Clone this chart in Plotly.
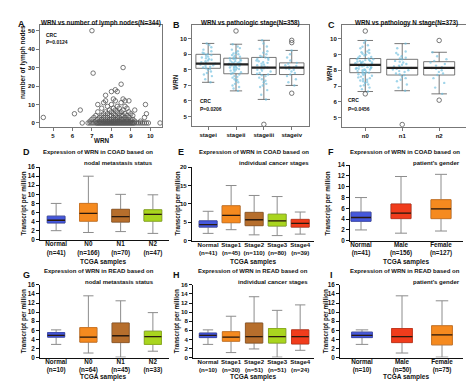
import plotly.graph_objects as go

W, H = 474, 383
FONT = "Liberation Sans, Arial, sans-serif"

# ---------------- Data ----------------
# Panel A: WRN vs number of lymph nodes (scatter)
a_wrn = [6.5, 6.8, 6.9, 7.0, 7.1, 7.2, 7.25, 7.3, 7.35, 7.4, 7.45, 7.5, 7.55, 7.6, 7.65, 7.7, 7.75, 7.8, 7.85, 7.9,
         7.95, 8.0, 8.05, 8.1, 8.15, 8.2, 8.25, 8.3, 8.35, 8.4, 8.45, 8.5, 8.55, 8.6, 8.65, 8.7, 8.75, 8.8, 8.85, 8.9,
         8.95, 9.0, 9.05, 9.1, 9.15, 9.2, 9.3, 9.4, 9.5, 9.6, 9.7, 9.8, 9.9, 10.5,
         6.9, 7.2, 7.4, 7.6, 7.7, 7.8, 7.9, 8.0, 8.1, 8.2, 8.3, 8.4, 8.5, 8.6, 8.7, 8.8, 8.9, 9.0, 9.2, 9.5,
         7.0, 7.3, 7.5, 7.7, 7.9, 8.0, 8.2, 8.3, 8.5, 8.6, 8.8, 9.0, 9.1,
         4.5, 7.1, 7.4, 7.6, 7.8, 8.1, 8.3, 8.4, 8.7, 8.9, 9.7,
         7.2, 7.5, 7.9, 8.0, 8.2, 8.5, 8.6, 8.8, 9.1,
         6.1, 7.6, 7.8, 8.1, 8.4, 8.7, 9.0, 9.8,
         7.3, 7.7, 8.0, 8.3, 8.5, 8.9,
         6.4, 7.9, 8.2, 8.6, 9.2,
         7.5, 8.1, 8.4, 8.8,
         7.8, 8.3, 8.7,
         7.3, 8.0, 9.75,
         7.6, 8.5,
         7.7, 8.2, 8.7, 8.9,
         8.1, 8.6,
         7.7, 8.0, 8.2, 8.3, 8.5, 7.06, 8.6, 7.0]
a_nodes = [0] * 54 + [1] * 20 + [2] * 13 + [3] * 11 + [4] * 9 + [5] * 8 + [6] * 6 + [7] * 5 + [8] * 4 + [9] * 3 \
          + [10] * 3 + [11] * 2 + [12] * 4 + [13] * 2 + [15, 17, 18, 17, 21, 27, 30, 50]

# Panel B: WRN vs pathologic stage
b_cats = ["stagei", "stageii", "stageiii", "stageiv"]
b_q1 = [8.1, 7.75, 7.7, 7.7]
b_med = [8.4, 8.35, 8.15, 8.15]
b_q3 = [9.0, 8.75, 8.8, 8.45]
b_lo = [7.2, 6.65, 6.1, 7.0]
b_hi = [9.7, 9.65, 9.9, 9.25]
b_out_x = ["stageii", "stageiii", "stageiv", "stageiv", "stageiv"]
b_out_y = [10.5, 4.5, 9.9, 9.75, 6.5]
b_pts = {
    "stagei": [7.2, 7.4, 7.6, 7.7, 7.8, 7.9, 8.0, 8.05, 8.1, 8.15, 8.2, 8.25, 8.3, 8.35, 8.4, 8.4, 8.45, 8.5, 8.55,
               8.6, 8.65, 8.7, 8.75, 8.8, 8.85, 8.9, 8.95, 9.0, 9.05, 9.1, 9.2, 9.3, 9.45, 9.6, 9.7],
    "stageii": [6.65, 6.8, 6.9, 7.0, 7.1, 7.2, 7.3, 7.35, 7.4, 7.5, 7.55, 7.6, 7.7, 7.75, 7.8, 7.85, 7.9, 7.95, 8.0,
                8.0, 8.05, 8.1, 8.1, 8.15, 8.2, 8.2, 8.25, 8.3, 8.3, 8.35, 8.35, 8.4, 8.4, 8.45, 8.45, 8.5, 8.5,
                8.55, 8.6, 8.6, 8.65, 8.7, 8.7, 8.75, 8.8, 8.85, 8.9, 8.95, 9.0, 9.05, 9.1, 9.2, 9.3, 9.4, 9.5, 9.65],
    "stageiii": [6.1, 6.4, 6.7, 6.9, 7.0, 7.1, 7.2, 7.3, 7.4, 7.5, 7.6, 7.65, 7.7, 7.75, 7.8, 7.9, 7.95, 8.0, 8.05,
                 8.1, 8.15, 8.2, 8.25, 8.3, 8.35, 8.4, 8.45, 8.5, 8.55, 8.6, 8.65, 8.7, 8.75, 8.8, 8.85, 8.9, 9.0,
                 9.1, 9.2, 9.35, 9.5, 9.7, 9.9],
    "stageiv": [7.0, 7.2, 7.4, 7.6, 7.7, 7.8, 7.9, 8.0, 8.05, 8.1, 8.15, 8.2, 8.25, 8.3, 8.4, 8.45, 8.6, 8.8, 9.0,
                9.25],
}

# Panel C: WRN vs pathology N stage
c_cats = ["n0", "n1", "n2"]
c_q1 = [7.85, 7.7, 7.7]
c_med = [8.35, 8.15, 8.15]
c_q3 = [8.75, 8.7, 8.55]
c_lo = [6.65, 6.7, 6.5]
c_hi = [9.9, 9.7, 9.15]
c_out_x = ["n0", "n0", "n1", "n2", "n2"]
c_out_y = [10.5, 6.5, 4.55, 9.9, 6.1]
c_pts = {
    "n0": [6.65, 6.8, 6.9, 7.0, 7.05, 7.1, 7.2, 7.25, 7.3, 7.35, 7.4, 7.45, 7.5, 7.55, 7.6, 7.65, 7.7, 7.75, 7.8,
           7.8, 7.85, 7.9, 7.9, 7.95, 8.0, 8.0, 8.05, 8.05, 8.1, 8.1, 8.15, 8.15, 8.2, 8.2, 8.25, 8.25, 8.3, 8.3,
           8.35, 8.35, 8.4, 8.4, 8.45, 8.45, 8.5, 8.5, 8.55, 8.55, 8.6, 8.6, 8.65, 8.65, 8.7, 8.7, 8.75, 8.8, 8.85,
           8.9, 8.95, 9.0, 9.05, 9.1, 9.15, 9.2, 9.3, 9.4, 9.5, 9.6, 9.75, 9.9],
    "n1": [6.7, 6.9, 7.1, 7.3, 7.4, 7.5, 7.6, 7.7, 7.75, 7.8, 7.9, 7.95, 8.0, 8.05, 8.1, 8.15, 8.2, 8.25, 8.3, 8.35,
           8.4, 8.5, 8.55, 8.6, 8.7, 8.75, 8.8, 8.9, 9.0, 9.1, 9.2, 9.4, 9.7],
    "n2": [6.5, 6.9, 7.2, 7.5, 7.7, 7.8, 7.9, 8.0, 8.1, 8.15, 8.2, 8.3, 8.4, 8.5, 8.6, 8.7, 8.9, 9.15],
}

# Panels D-I: TPM box plots  (lower whisker, q1, median, q3, upper whisker)
d_cats = ["Normal<br>(n=41)", "N0<br>(n=166)", "N1<br>(n=70)", "N2<br>(n=47)"]
d_lo, d_q1, d_med, d_q3, d_hi = [2.0, 1.6, 1.8, 1.4], [3.7, 4.1, 3.9, 4.1], [4.3, 5.8, 5.1, 5.6], [5.2, 8.0, 6.7, 6.6], [8.0, 14.0, 10.0, 9.9]

e_cats = ["Normal<br>(n=41)", "Stage1<br>(n=45)", "Stage2<br>(n=110)", "Stage3<br>(n=80)", "Stage4<br>(n=39)"]
e_lo, e_q1, e_med, e_q3, e_hi = [2.0, 3.0, 1.6, 1.4, 1.8], [3.7, 4.9, 4.1, 4.0, 3.7], [4.4, 6.9, 5.7, 5.4, 4.7], [5.4, 9.5, 7.7, 7.2, 5.8], [8.0, 15.0, 12.3, 12.0, 7.8]

f_cats = ["Normal<br>(n=41)", "Male<br>(n=156)", "Female<br>(n=127)"]
f_lo, f_q1, f_med, f_q3, f_hi = [2.0, 1.4, 1.8], [3.6, 4.1, 4.1], [4.3, 5.1, 5.9], [5.3, 6.8, 7.6], [8.0, 11.9, 12.3]

g_cats = ["Normal<br>(n=10)", "N0<br>(n=64)", "N1<br>(n=45)", "N2<br>(n=33)"]
g_lo, g_q1, g_med, g_q3, g_hi = [2.9, 1.0, 0.1, 1.4], [4.5, 3.4, 3.3, 2.9], [4.9, 4.5, 4.8, 4.6], [5.5, 6.6, 7.6, 5.8], [6.1, 13.6, 12.5, 9.9]

h_cats = ["Normal<br>(n=10)", "Stage1<br>(n=30)", "Stage2<br>(n=51)", "Stage3<br>(n=51)", "Stage4<br>(n=24)"]
h_lo, h_q1, h_med, h_q3, h_hi = [2.9, 1.1, 1.9, 0.1, 1.6], [4.4, 3.6, 3.2, 3.2, 3.0], [4.9, 4.5, 4.6, 4.6, 4.6], [5.4, 5.7, 7.6, 6.4, 6.1], [6.1, 9.1, 13.4, 10.4, 11.6]

i_cats = ["Normal<br>(n=10)", "Male<br>(n=50)", "Female<br>(n=75)"]
i_lo, i_q1, i_med, i_q3, i_hi = [2.9, 1.0, 0.1], [4.4, 3.3, 2.8], [4.9, 4.6, 5.0], [5.6, 6.4, 7.0], [6.1, 13.6, 12.5]

BLUE, ORANGE, BROWN, LIME, RED = "#4558DC", "#F58A1F", "#B66E2C", "#A9D51F", "#F03C1C"
BLUE_D, ORANGE_D, BROWN_D, LIME_D, RED_D = "#3341B0", "#D27015", "#92551F", "#88AD12", "#C62D12"

# ---------------- Helpers ----------------
def px_x(a, b):
    return [a / W, b / W]

def px_y(top, bottom):
    return [1 - bottom / H, 1 - top / H]

fig = go.Figure()
annotations = []

def ann(text, x, y, size, xanchor="center", yanchor="middle", angle=0, bold=True, color="#111"):
    annotations.append(dict(text=text, x=x / W, y=1 - y / H, xref="paper", yref="paper",
                            xanchor=xanchor, yanchor=yanchor, textangle=angle, showarrow=False,
                            font=dict(family=FONT, size=size, color=color, weight="bold" if bold else "normal")))

layout_axes = {}

def axes(k, xdom, ydom, xrange, yrange, boxed, xcats=None, ytickvals=None, xtickvals=None, tfs=6, xstand=0):
    xn = "xaxis" if k == 1 else f"xaxis{k}"
    yn = "yaxis" if k == 1 else f"yaxis{k}"
    tick = dict(family=FONT, size=tfs, color="#111", weight="bold")
    lc = "#777" if boxed else "#111"
    xa = dict(domain=xdom, anchor=f"y{'' if k == 1 else k}", range=xrange, showgrid=False, zeroline=False,
              showline=True, linecolor=lc, linewidth=1, mirror=boxed, tickfont=tick, fixedrange=True,
              tickangle=0, ticklabelstandoff=xstand)
    ya = dict(domain=ydom, anchor=f"x{'' if k == 1 else k}", range=yrange, showgrid=False, zeroline=False,
              showline=True, linecolor=lc, linewidth=1, mirror=boxed, tickfont=tick, ticks="outside",
              ticklen=3, tickcolor=lc, tickwidth=1, fixedrange=True)
    if xcats is not None:
        xa.update(type="category", categoryorder="array", categoryarray=xcats, ticks="outside" if boxed else "",
                  ticklen=3, tickcolor=lc)
    else:
        xa.update(ticks="outside", ticklen=3, tickcolor=lc)
    if ytickvals is not None:
        ya.update(tickmode="array", tickvals=ytickvals)
    if xtickvals is not None:
        xa.update(tickmode="array", tickvals=xtickvals)
    layout_axes[xn] = xa
    layout_axes[yn] = ya

# ---------------- Panel A ----------------
axes(1, px_x(32, 154), px_y(13, 117), [4.33, 10.6], [-2.1, 53.2], True,
     ytickvals=[0, 10, 20, 30, 40, 50], xtickvals=[5, 6, 7, 8, 9, 10])
fig.add_trace(go.Scatter(x=a_wrn, y=a_nodes, mode="markers", xaxis="x", yaxis="y",
                         marker=dict(symbol="circle-open", size=4.5, color="#555", line=dict(width=0.8))))

# ---------------- Panels B, C ----------------
def jitter_panel(k, cats, q1, med, q3, lo, hi, pts, out_x, out_y, bw):
    xa, ya = f"x{k}", f"y{k}"
    fig.add_trace(go.Box(x=cats, q1=q1, median=med, q3=q3, lowerfence=lo, upperfence=hi, xaxis=xa, yaxis=ya,
                         boxpoints=False, fillcolor="rgba(255,255,255,0)", line=dict(color="#555", width=0.8),
                         width=bw, whiskerwidth=0.5))
    for c in cats:
        fig.add_trace(go.Box(x=[c] * len(pts[c]), y=pts[c], xaxis=xa, yaxis=ya, boxpoints="all", jitter=0.65,
                             pointpos=0, fillcolor="rgba(0,0,0,0)", line=dict(color="rgba(0,0,0,0)", width=0),
                             whiskerwidth=0, width=bw,
                             marker=dict(size=2.4, color="rgba(110,190,222,0.65)")))
    fig.add_trace(go.Box(x=cats, q1=med, median=med, q3=med, lowerfence=med, upperfence=med, xaxis=xa, yaxis=ya,
                         boxpoints=False, line=dict(color="#222", width=2.2), width=bw, whiskerwidth=0,
                         fillcolor="rgba(0,0,0,0)"))
    fig.add_trace(go.Scatter(x=out_x, y=out_y, mode="markers", xaxis=xa, yaxis=ya,
                             marker=dict(symbol="circle-open", size=4.5, color="#555", line=dict(width=0.8))))

axes(2, px_x(184, 301), px_y(13, 116), [-0.58, 3.62], [4.4, 10.9], True, xcats=b_cats,
     ytickvals=[5, 6, 7, 8, 9, 10])
jitter_panel(2, b_cats, b_q1, b_med, b_q3, b_lo, b_hi, b_pts, b_out_x, b_out_y, 0.88)

axes(3, px_x(334, 467), px_y(13, 117), [-0.63, 2.97], [4.4, 10.9], True, xcats=c_cats,
     ytickvals=[5, 6, 7, 8, 9, 10])
jitter_panel(3, c_cats, c_q1, c_med, c_q3, c_lo, c_hi, c_pts, c_out_x, c_out_y, 0.84)

# ---------------- Panels D-I ----------------
def tpm_panel(k, cats, lo, q1, med, q3, hi, colors, dark, bw):
    xa, ya = f"x{k}", f"y{k}"
    fig.add_trace(go.Box(x=cats, q1=q1, median=med, q3=q3, lowerfence=lo, upperfence=hi, xaxis=xa, yaxis=ya,
                         boxpoints=False, fillcolor="rgba(0,0,0,0)", line=dict(color="#8c8c8c", width=1),
                         width=bw, whiskerwidth=0.6))
    for i, c in enumerate(cats):
        fig.add_trace(go.Box(x=[c], q1=[q1[i]], median=[med[i]], q3=[q3[i]], lowerfence=[q1[i]],
                             upperfence=[q3[i]], xaxis=xa, yaxis=ya, boxpoints=False, fillcolor=colors[i],
                             line=dict(color=dark[i], width=0.8), width=bw, whiskerwidth=0))
    fig.add_trace(go.Box(x=cats, q1=med, median=med, q3=med, lowerfence=med, upperfence=med, xaxis=xa, yaxis=ya,
                         boxpoints=False, line=dict(color="#2a1a0e", width=1.3), width=bw, whiskerwidth=0,
                         fillcolor="rgba(0,0,0,0)"))

SO = -2
axes(4, px_x(32, 161), px_y(158, 232), [-0.5, 3.5], [0, 16], False, xcats=d_cats,
     ytickvals=[0, 2, 4, 6, 8, 10, 12, 14, 16], tfs=6.3, xstand=SO)
tpm_panel(4, d_cats, d_lo, d_q1, d_med, d_q3, d_hi, [BLUE, ORANGE, BROWN, LIME], [BLUE_D, ORANGE_D, BROWN_D, LIME_D], 0.55)

axes(5, px_x(184, 306), px_y(158, 233), [-0.7, 4.6], [0, 20], False, xcats=e_cats,
     ytickvals=[0, 5, 10, 15, 20], tfs=6.1, xstand=SO)
tpm_panel(5, e_cats, e_lo, e_q1, e_med, e_q3, e_hi, [BLUE, ORANGE, BROWN, LIME, RED],
          [BLUE_D, ORANGE_D, BROWN_D, LIME_D, RED_D], 0.78)

axes(6, px_x(342, 455), px_y(156, 233), [-0.275, 2.55], [0, 14], False, xcats=f_cats,
     ytickvals=[0, 2, 4, 6, 8, 10, 12, 14], tfs=6.3, xstand=SO)
tpm_panel(6, f_cats, f_lo, f_q1, f_med, f_q3, f_hi, [BLUE, RED, ORANGE], [BLUE_D, RED_D, ORANGE_D], 0.5)

axes(7, px_x(32, 161), px_y(278, 352), [-0.5, 3.5], [0, 16], False, xcats=g_cats,
     ytickvals=[0, 2, 4, 6, 8, 10, 12, 14, 16], tfs=6.3, xstand=SO)
tpm_panel(7, g_cats, g_lo, g_q1, g_med, g_q3, g_hi, [BLUE, ORANGE, BROWN, LIME], [BLUE_D, ORANGE_D, BROWN_D, LIME_D], 0.53)

axes(8, px_x(185, 306), px_y(278, 352), [-0.65, 4.6], [0, 16], False, xcats=h_cats,
     ytickvals=[0, 2, 4, 6, 8, 10, 12, 14, 16], tfs=6.1, xstand=SO)
tpm_panel(8, h_cats, h_lo, h_q1, h_med, h_q3, h_hi, [BLUE, ORANGE, BROWN, LIME, RED],
          [BLUE_D, ORANGE_D, BROWN_D, LIME_D, RED_D], 0.75)

axes(9, px_x(332, 455), px_y(278, 352), [-0.55, 2.525], [0, 16], False, xcats=i_cats,
     ytickvals=[0, 2, 4, 6, 8, 10, 12, 14, 16], tfs=6.3, xstand=SO)
tpm_panel(9, i_cats, i_lo, i_q1, i_med, i_q3, i_hi, [BLUE, RED, ORANGE], [BLUE_D, RED_D, ORANGE_D], 0.52)

# ---------------- Text ----------------
# panel letters
for t, x, y in [("A", 13, 12), ("B", 168, 13), ("C", 323, 13), ("D", 18, 143), ("E", 173, 143), ("F", 323, 143),
                ("G", 18, 268), ("H", 168, 268), ("I", 323, 268)]:
    ann(t, x, y, 9)

# top row titles
ann("WRN vs number of lymph nodes(N=344)", 93, 11, 6.3)
ann("WRN vs pathologic stage(N=358)", 243, 11, 6.3)
ann("WRN vs pathology N stage(N=373)", 398, 11, 6.3)
ann("number of lymph nodes", 15, 51, 6.5, angle=-90)
ann("WRN", 168, 72, 6.3, angle=-90)
ann("WRN", 322, 63, 6.3, angle=-90)
ann("WRN", 93, 131, 6.3)
ann("CRC", 36, 23, 5, xanchor="left")
ann("P=0.0124", 36, 31, 5, xanchor="left")
ann("CRC", 190, 91, 5, xanchor="left")
ann("P=0.0206", 190, 99, 5, xanchor="left")
ann("CRC", 338, 90, 5, xanchor="left")
ann("P=0.0456", 338, 99, 5, xanchor="left")

# GEPIA-like titles (right aligned two lines)
for l1, l2, xr, y1, y2 in [
    ("Expression of WRN in COAD based on", "nodal metastasis status", 147, 143, 154),
    ("Expression of WRN in COAD based on", "individual cancer stages", 303, 143, 154),
    ("Expression of WRN in COAD based on", "patient's gender", 454, 143, 154),
    ("Expression of WRN in READ based on", "nodal metastasis status", 148, 264, 275),
    ("Expression of WRN in READ based on", "individual cancer stages", 302, 264, 275),
    ("Expression of WRN in READ based on", "patient's gender", 454, 264, 275),
]:
    ann(l1, xr, y1, 6, xanchor="right")
    ann(l2, xr, y2, 6, xanchor="right")

# y titles
for x, y in [(16, 195), (170, 195), (320, 195), (16, 315), (169, 315), (318, 315)]:
    ann("Transcript per million", x, y, 6.3, angle=-90)
# x titles
for x, y in [(95, 255), (245, 255), (398, 255), (95, 372), (245, 372), (398, 372)]:
    ann("TCGA samples", x, y, 6.5)

fig.update_layout(width=W, height=H, margin=dict(l=0, r=0, t=0, b=0), paper_bgcolor="white",
                  plot_bgcolor="white", showlegend=False, boxmode="overlay", annotations=annotations,
                  font=dict(family=FONT), **layout_axes)

fig.write_html("out.html")
